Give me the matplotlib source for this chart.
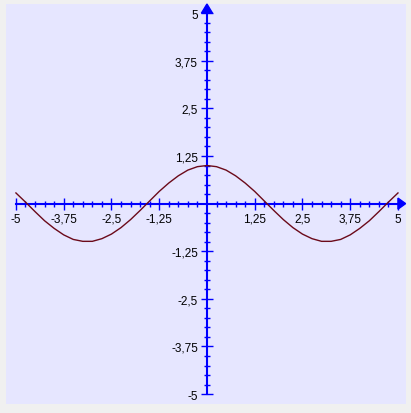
import matplotlib
matplotlib.use('Agg')
import matplotlib.pyplot as plt
from matplotlib.patches import Polygon
from matplotlib.ticker import FixedLocator, FixedFormatter

# curve
x_vals = [-5.0, -4.75, -4.5, -4.25, -4.0, -3.75, -3.5, -3.25, -3.0, -2.75,
          -2.5, -2.25, -2.0, -1.75, -1.5, -1.25, -1.0, -0.75, -0.5, -0.25,
          0.0, 0.25, 0.5, 0.75, 1.0, 1.25, 1.5, 1.75, 2.0, 2.25,
          2.5, 2.75, 3.0, 3.25, 3.5, 3.75, 4.0, 4.25, 4.5, 4.75, 5.0]
y_vals = [0.28, 0.04, -0.21, -0.45, -0.65, -0.82, -0.94, -0.99, -0.99, -0.92,
          -0.80, -0.63, -0.42, -0.18, 0.07, 0.32, 0.54, 0.73, 0.88, 0.97,
          1.00, 0.97, 0.88, 0.73, 0.54, 0.32, 0.07, -0.18, -0.42, -0.63,
          -0.80, -0.92, -0.99, -0.99, -0.94, -0.82, -0.65, -0.45, -0.21, 0.04, 0.28]

tick_pos = [-5, -3.75, -2.5, -1.25, 1.25, 2.5, 3.75, 5]
tick_labels = ['-5', '-3,75', '-2,5', '-1,25', '1,25', '2,5', '3,75', '5']
minor_pos = [v for v in x_vals if v not in tick_pos and v != 0]

BG = '#f0f0f0'
PLOT_BG = '#e6e6ff'
AXIS = '#0000ff'
CURVE = '#6b0a1a'

plt.rcParams.update({'font.family': 'Liberation Sans', 'font.size': 8})

W, H = 411, 414
fig = plt.figure(figsize=(W / 100, H / 100), dpi=100, facecolor=BG)
ax = fig.add_axes([6 / W, (H - 405) / H, 400 / W, 400 / H])
ax.set_facecolor(PLOT_BG)
ax.set_xlim(-5.26, 5.21)
ax.set_ylim(-5.26, 5.24)

ax.plot(x_vals, y_vals, color=CURVE, lw=1.0, zorder=3)

for side in ['top', 'right']:
    ax.spines[side].set_visible(False)
for side in ['left', 'bottom']:
    sp = ax.spines[side]
    sp.set_position(('data', 0))
    sp.set_bounds(-5, 5)
    sp.set_color(AXIS)
    sp.set_linewidth(1.5)

for axis in [ax.xaxis, ax.yaxis]:
    axis.set_major_locator(FixedLocator(tick_pos))
    axis.set_major_formatter(FixedFormatter(tick_labels))
    axis.set_minor_locator(FixedLocator(minor_pos))

ax.tick_params(which='both', direction='inout', color=AXIS, width=1.0,
               labelcolor='black', labelsize=8.5)
ax.tick_params(which='major', length=9, pad=2)
ax.tick_params(which='minor', length=5)

# arrow heads at the positive ends
ax.add_patch(Polygon([(-0.145, 5.0), (0.145, 5.0), (0, 5.24)], closed=True,
                     color=AXIS, zorder=4, clip_on=False))
ax.add_patch(Polygon([(5.0, -0.145), (5.0, 0.145), (5.2, 0)], closed=True,
                     color=AXIS, zorder=4, clip_on=False))

fig.savefig('out.png', dpi=100, facecolor=BG)
